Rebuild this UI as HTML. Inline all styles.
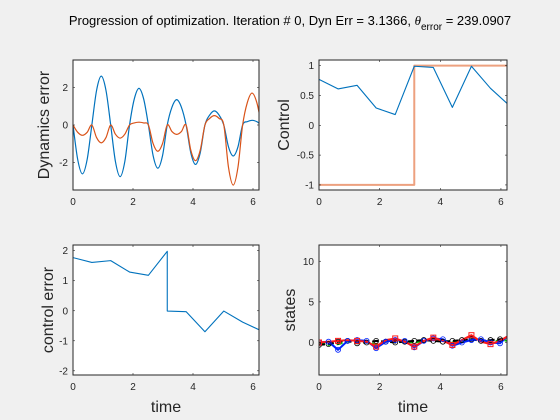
<!DOCTYPE html>
<html><head><meta charset="utf-8"><style>
html,body{margin:0;padding:0;background:#f0f0f0;}
svg{display:block;font-family:"Liberation Sans",Arial,sans-serif;}
</style></head><body>
<svg id="fig" width="560" height="420" viewBox="0 0 560 420">
<text x="290" y="25" font-size="13" text-anchor="middle" fill="#000">Progression of optimization. Iteration # 0, Dyn Err = 3.1366,  <tspan font-family="Liberation Serif" font-style="italic">θ</tspan><tspan font-size="10" dy="5">error</tspan><tspan dy="-5"> = 239.0907</tspan></text>
</svg>
<script>
// ---- data ----
const dynT = Array.from({length:41},(_,k)=>k*Math.PI/20);
const dynBlue = [0,-1.84,-2.6,-1.84, 0,1.84,2.6,1.84, 0,-1.94,-2.75,-1.94, 0,1.38,1.95,1.38, 0,-1.63,-2.3,-1.63, 0,0.95,1.35,0.95, 0,-1.48,-2.1,-1.48, 0,0.53,0.75,0.53, 0,-1.17,-1.65,-1.17, 0,0.18,0.25,0.18, 0];
const dynOrange = [0,-0.39,-0.55,-0.39, 0,-0.67,-0.95,-0.67, 0,-0.49,-0.7,-0.49, 0,0.11,0.15,0.11, 0,-0.99,-1.4,-0.99, 0,-0.35,-0.5,-0.35, 0,-1.34,-1.9,-1.34, 0,0.35,0.5,0.35, 0,-2.26,-3.2,-2.26, 0,1.2,1.7,1.2, 0];
const ctrlT = [0,0.628,1.257,1.885,2.513,3.142,3.770,4.398,5.027,5.655,6.283];
const ctrlU = [0.77,0.61,0.67,0.29,0.18,0.99,0.97,0.30,0.99,0.62,0.33];
const refT = [0,3.142,3.142,6.283];
const refU = [-1,-1,1,1];
const errT = [0,0.628,1.257,1.885,2.513,3.142,3.142,3.770,4.398,5.027,5.655,6.283];
const errV = [1.77,1.61,1.67,1.29,1.18,1.98,-0.01,-0.03,-0.70,-0.01,-0.38,-0.67];
const stT = Array.from({length:21},(_,k)=>k*0.3142);
const stBlack = [-0.3,-0.2,0.1,0.2,-0.1,0.0,0.2,0.1,0.0,0.1,0.2,0.3,0.2,0.1,0.2,0.3,0.4,0.2,0.3,0.4,0.5];
const stGreen = [0.0,-0.3,-0.2,0.1,0.2,0.0,-0.2,0.1,0.3,0.1,0.0,0.2,0.5,0.3,0.0,0.1,0.4,0.2,0.0,0.3,0.2];
const stBlue = [0.0,0.1,-0.9,0.2,0.3,0.2,-0.7,0.1,0.3,0.2,-0.6,0.2,0.5,0.4,-0.4,0.0,0.3,0.4,0.0,-0.1,1.0];
const stRed = [0.0,0.1,0.2,0.3,0.2,0.1,-0.5,0.3,0.5,0.1,-0.5,0.2,0.6,0.2,-0.3,0.3,0.9,0.1,-0.2,0.2,0.9];
const xTicks = [0,2,4,6];

const NS='http://www.w3.org/2000/svg';
const svg=document.getElementById('fig');
function mk(tag,attrs,parent){const e=document.createElementNS(NS,tag);for(const k in attrs)e.setAttribute(k,attrs[k]);(parent||svg).appendChild(e);return e;}
function axes(name,x0,y0,x1,y1,xmin,xmax,ymin,ymax,yTicks,yLabels,ylab,xlab){
  const g=mk('g',{});
  
  
  const bg=mk('rect',{x:x0,y:y0,width:x1-x0,height:y1-y0,fill:'#fff'},g);
  
  
  const sx=v=>x0+(v-xmin)/(xmax-xmin)*(x1-x0);
  const sy=v=>y1-(v-ymin)/(ymax-ymin)*(y1-y0);
  const clipId=name+'-clip';
  const cp=mk('clipPath',{id:clipId},g);mk('rect',{x:x0,y:y0,width:x1-x0,height:y1-y0},cp);
  const plot=mk('g',{'clip-path':'url(#'+clipId+')'},g);
  xTicks.forEach(t=>{const X=sx(t);
    mk('line',{x1:X,y1:y1,x2:X,y2:y1-2,stroke:'#262626','stroke-width':0.6},g);
    mk('line',{x1:X,y1:y0,x2:X,y2:y0+2,stroke:'#262626','stroke-width':0.6},g);
    const tl=mk('text',{x:X,y:y1+15,'font-size':10,'text-anchor':'middle',fill:'#262626'},g);tl.textContent=t;
    
    
  });
  yTicks.forEach((t,i)=>{const Y=sy(t);
    mk('line',{x1:x0,y1:Y,x2:x0+2,y2:Y,stroke:'#262626','stroke-width':0.6},g);
    mk('line',{x1:x1,y1:Y,x2:x1-2,y2:Y,stroke:'#262626','stroke-width':0.6},g);
    const tl=mk('text',{x:x0-5,y:Y+3.5,'font-size':10,'text-anchor':'end',fill:'#262626'},g);tl.textContent=yLabels[i];
    
    
  });
  const yl=mk('text',{x:0,y:0,'font-size':16,'text-anchor':'middle',fill:'#262626',transform:`translate(${x0-ylab[1]},${(y0+y1)/2}) rotate(-90)`},g);
  yl.textContent=ylab[0];
  
  
  if(xlab){const xl=mk('text',{x:(x0+x1)/2,y:y1+37,'font-size':16,'text-anchor':'middle',fill:'#262626'},g);xl.textContent=xlab;
    
    }
  const fr=mk('rect',{x:x0,y:y0,width:x1-x0,height:y1-y0,fill:'none',stroke:'#262626','stroke-width':1},g);
  return {plot,sx,sy,g,frame:fr};
}
function poly(ax,xs,ys,color,w,name,dash){
  const p=mk('polyline',{points:xs.map((x,i)=>ax.sx(x)+','+ax.sy(ys[i])).join(' '),fill:'none',stroke:color,'stroke-width':w,'stroke-linejoin':'round'},ax.plot);
  if(dash)p.setAttribute('stroke-dasharray',dash);
  
  
  return p;
}
function smooth(ax,xs,ys,color,w,name){
  const P=xs.map((x,i)=>[ax.sx(x),ax.sy(ys[i])]);
  let d='M'+P[0][0]+','+P[0][1];
  for(let i=0;i<P.length-1;i++){const p0=P[Math.max(0,i-1)],p1=P[i],p2=P[i+1],p3=P[Math.min(P.length-1,i+2)];
    d+=` C${p1[0]+(p2[0]-p0[0])/6},${p1[1]+(p2[1]-p0[1])/6} ${p2[0]-(p3[0]-p1[0])/6},${p2[1]-(p3[1]-p1[1])/6} ${p2[0]},${p2[1]}`;}
  const p=mk('path',{d,fill:'none',stroke:color,'stroke-width':w},ax.plot);
  
  
}
const XMAX=6.2;
// top-left
const a1=axes('dynamics-error-axes',73,60,259,190,0,XMAX,-3.46,3.46,[-2,0,2],['-2','0','2'],['Dynamics error',24]);
smooth(a1,dynT,dynBlue,'#0072bd',1.2,'dynamics-error-blue-line');
smooth(a1,dynT,dynOrange,'#d95319',1.2,'dynamics-error-orange-line');
// top-right
const a2=axes('control-axes',319,60,507,190,0,XMAX,-1.085,1.095,[-1,-0.5,0,0.5,1],['-1','-0.5','0','0.5','1'],['Control',30]);
poly(a2,refT,refU,'#eda17f',2,'control-reference-line');
poly(a2,ctrlT,ctrlU,'#0072bd',1.1,'control-line');
// bottom-left
const a3=axes('control-error-axes',73,245,259,375,0,XMAX,-2.14,2.19,[-2,-1,0,1,2],['-2','-1','0','1','2'],['control error',20],'time');
poly(a3,errT,errV,'#0072bd',1.1,'control-error-line');
// bottom-right
const a4=axes('states-axes',319,245,507,375,0,XMAX,-4,12,[0,5,10],['0','5','10'],['states',24],'time');
poly(a4,stT,stGreen,'#00cc00',2,'state-green-line','6 3');
poly(a4,stT,stBlack,'#000',2,'state-black-line','6 3');
poly(a4,stT,stBlue,'#0022ff',2,'state-blue-line');
poly(a4,stT,stRed,'#ff1a1a',2,'state-red-line');
stT.forEach((t,i)=>{
  const c=mk('circle',{cx:a4.sx(t),cy:a4.sy(stBlack[i]),r:2.5,fill:'none',stroke:'#000','stroke-width':0.8},a4.plot);
  
  
  const c2=mk('circle',{cx:a4.sx(t),cy:a4.sy(stBlue[i]),r:2.5,fill:'none',stroke:'#0022ff','stroke-width':0.8},a4.plot);
  
  
  if(i%2===0){const s=mk('rect',{x:a4.sx(t)-2.5,y:a4.sy(stRed[i])-2.5,width:5,height:5,fill:'none',stroke:'#ff1a1a','stroke-width':1},a4.plot);
    
    }
});
</script>
</body></html>
